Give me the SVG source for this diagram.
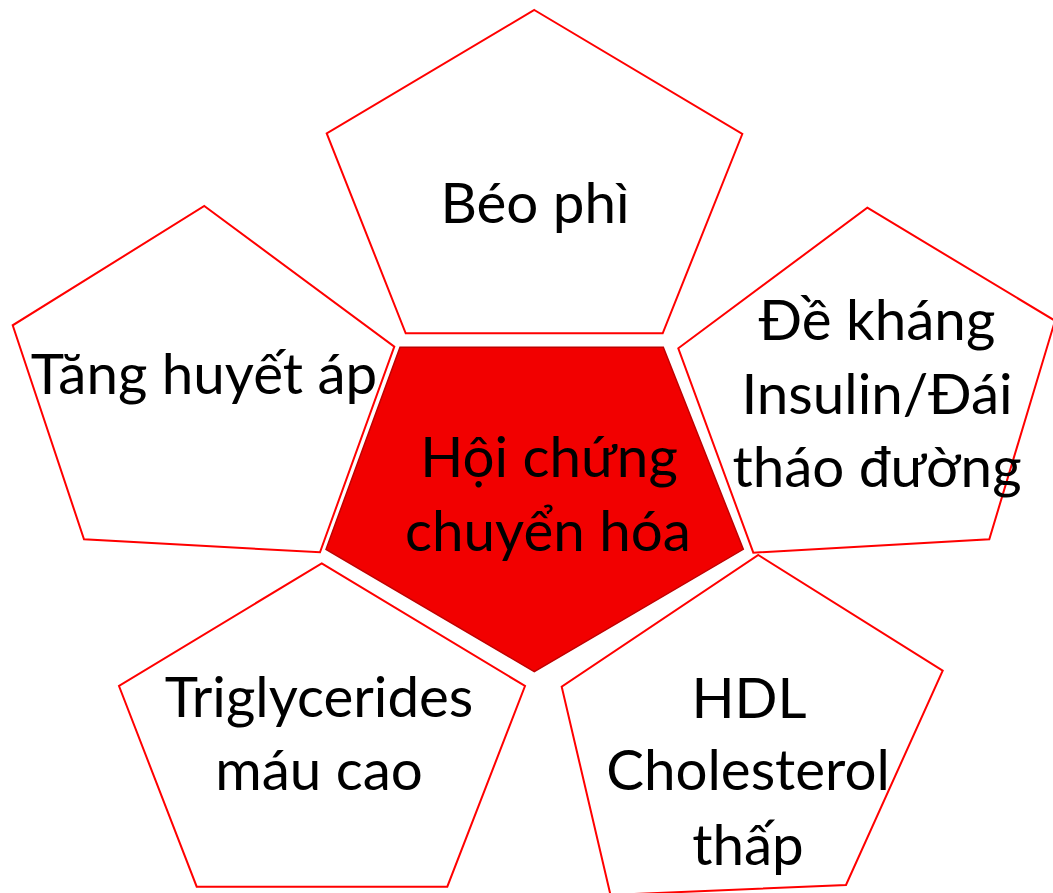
<svg xmlns="http://www.w3.org/2000/svg" width="1053" height="893" viewBox="0 0 1053 893">
<style>
.p{fill:#ffffff;stroke:#ff0000;stroke-width:2;stroke-linejoin:miter}
.c{fill:#f20000;stroke:#c00000;stroke-width:1.5}
text{font-family:Lato,"Noto Sans",sans-serif;font-size:56.5px;fill:#000;text-anchor:middle}
</style>
<rect width="1053" height="893" fill="#ffffff"/>
<g id="connectors"></g>
<g id="beo-phi">
<polygon class="p" points="534.3,10 742.3,134 662.7,333.3 405.7,333.3 326.7,133.3"/>
<text x="535" y="223">Béo phì</text>
</g>
<g id="tang-huyet-ap">
<polygon class="p" points="204.3,206 394.3,346.7 320,552.3 84,539.3 12.7,325.3"/>
<text x="204" y="394">Tăng huyết áp</text>
</g>
<g id="de-khang">
<polygon class="p" points="867.3,207.7 1055,320.7 989.3,539.3 753.3,552.7 678.3,348.3"/>
<text x="877" y="340">Đề kháng</text>
<text x="877" y="413.5">Insulin/Đái</text>
<text x="877" y="487">tháo đường</text>
</g>
<g id="triglycerides">
<polygon class="p" points="321.7,563.3 525,686 447.3,886.7 196.7,886.7 119,686"/>
<text x="319" y="717">Triglycerides</text>
<text x="319" y="790">máu cao</text>
</g>
<g id="hdl">
<polygon class="p" points="758.3,555 942.7,670.7 846,885 610.5,895 561.7,686.7"/>
<text x="749" y="718">HDL</text>
<text x="748" y="790">Cholesterol</text>
<text x="748" y="865">thấp</text>
</g>
<g id="hoi-chung">
<polygon class="c" points="400,347.3 663.3,347.3 743.3,549.3 534.3,671.7 326,549.3"/>
<text x="549" y="477">Hội chứng</text>
<text x="548" y="551">chuyển hóa</text>
</g>
</svg>
